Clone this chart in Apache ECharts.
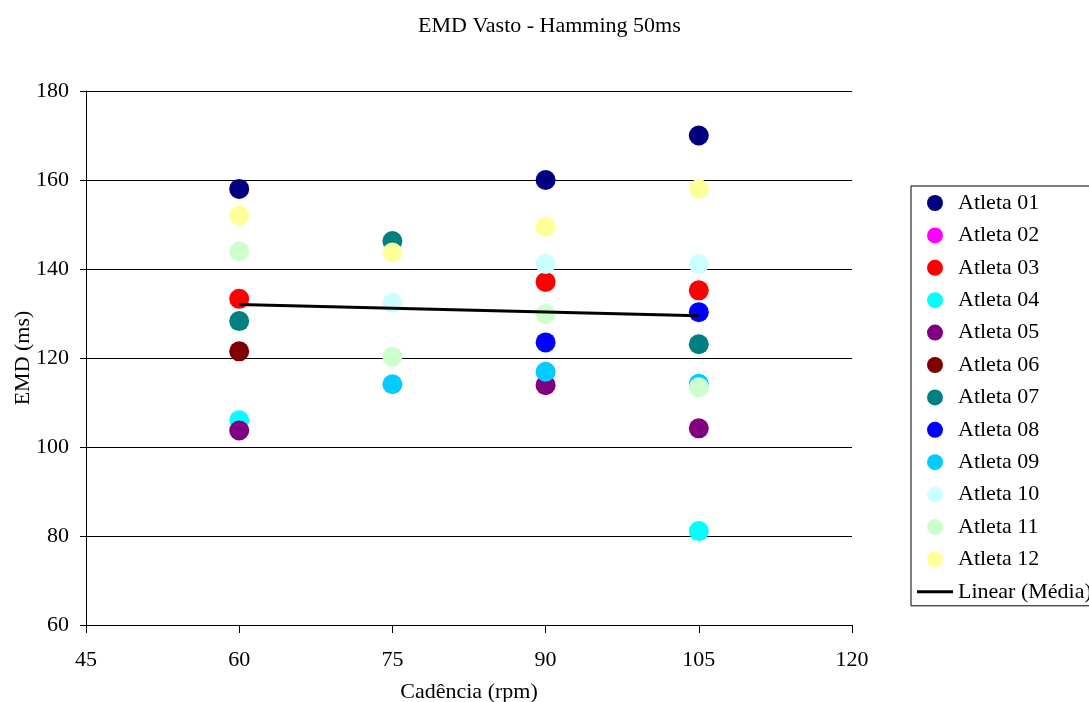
<!DOCTYPE html>
<html>
<head>
<meta charset="utf-8">
<script src="https://cdn.jsdelivr.net/npm/echarts@6/dist/echarts.min.js"></script>
<style>html,body{margin:0;padding:0;background:#fff}#c{width:1089px;height:702px}</style>
</head>
<body>
<div id="c"></div>
<script>
const cadence = [60, 75, 90, 105];
const xTicks = [45, 60, 75, 90, 105, 120];
const yTicks = [60, 80, 100, 120, 140, 160, 180];
const athleteNames = ['Atleta 01','Atleta 02','Atleta 03','Atleta 04','Atleta 05','Atleta 06','Atleta 07','Atleta 08','Atleta 09','Atleta 10','Atleta 11','Atleta 12'];
const atleta01 = [158, null, 160, 170];
const atleta02 = [null, null, null, null];
const atleta03 = [133.3, null, 137.1, 135.2];
const atleta04 = [106, null, null, 81.1];
const atleta05 = [103.7, null, 113.9, 104.2];
const atleta06 = [121.5, null, null, null];
const atleta07 = [128.3, 146.3, null, 123.1];
const atleta08 = [null, null, 123.5, 130.3];
const atleta09 = [null, 114.1, 116.9, 114.2];
const atleta10 = [null, 132.4, 141.1, 141.1];
const atleta11 = [144, 120.3, 129.9, 113.4];
const atleta12 = [152, 143.7, 149.5, 158];
const trendName = 'Linear (Média)';
const trendX = [60, 105];
const trendY = [132.0, 129.5];

const athleteValues = [atleta01, atleta02, atleta03, atleta04, atleta05, atleta06, atleta07, atleta08, atleta09, atleta10, atleta11, atleta12];
const colors = ['#000080','#FF00FF','#FF0000','#00FFFF','#800080','#800000','#008080','#0000FF','#00CCFF','#CCFFFF','#CCFFCC','#FFFF99'];
const FONT = "'Liberation Serif','Times New Roman',serif";

const series = athleteNames.map((name, i) => ({
  name: name,
  type: 'scatter',
  symbol: 'circle',
  symbolSize: 20,
  itemStyle: { color: colors[i], opacity: 1 },
  data: cadence.map((x, j) => [x, athleteValues[i][j]]).filter(d => d[1] !== null)
}));
series.push({
  name: trendName,
  type: 'line',
  symbol: 'none',
  showSymbol: false,
  lineStyle: { color: '#000', width: 3 },
  itemStyle: { color: '#000' },
  z: 3,
  data: trendX.map((x, j) => [x, trendY[j]])
});

const legendData = athleteNames.map(n => ({ name: n }));
legendData.push({ name: trendName, icon: 'path://M0,0L36,0L36,3L0,3Z', itemStyle: { color: '#000' } });

const chart = echarts.init(document.getElementById('c'), null, { renderer: 'canvas' });
chart.setOption({
  animation: false,
  backgroundColor: '#fff',
  textStyle: { fontFamily: FONT },
  title: {
    text: 'EMD Vasto - Hamming 50ms',
    left: 418,
    top: 15,
    padding: 0,
    textStyle: { fontFamily: FONT, fontSize: 22, fontWeight: 'normal', color: '#000' }
  },
  grid: { left: 86, right: 237, top: 91, bottom: 77, containLabel: false, outerBoundsMode: 'none' },
  xAxis: {
    type: 'value',
    min: xTicks[0], max: xTicks[xTicks.length - 1], interval: 15,
    name: 'Cadência (rpm)',
    nameLocation: 'middle',
    nameGap: 56,
    nameMoveOverlap: false,
    nameTextStyle: { fontFamily: FONT, fontSize: 22, color: '#000' },
    axisLine: { show: true, lineStyle: { color: '#000', width: 1 } },
    axisTick: { show: true, length: 8, lineStyle: { color: '#000' } },
    axisLabel: { margin: 24, fontFamily: FONT, fontSize: 22, color: '#000' },
    splitLine: { show: false }
  },
  yAxis: {
    type: 'value',
    min: yTicks[0], max: yTicks[yTicks.length - 1], interval: 20,
    name: 'EMD (ms)',
    nameLocation: 'middle',
    nameGap: 52,
    nameRotate: 90,
    nameMoveOverlap: false,
    nameTextStyle: { fontFamily: FONT, fontSize: 22, color: '#000' },
    axisLine: { show: true, lineStyle: { color: '#000', width: 1 } },
    axisTick: { show: true, length: 6, lineStyle: { color: '#000' } },
    axisLabel: { margin: 17, fontFamily: FONT, fontSize: 22, color: '#000' },
    splitLine: { show: true, lineStyle: { color: '#000', width: 1 } }
  },
  legend: {
    orient: 'vertical',
    left: 911,
    top: 186,
    padding: [6, 10, 3, 6],
    itemWidth: 36,
    itemHeight: 16,
    itemGap: 10.4,
    symbolKeepAspect: true,
    borderColor: '#000',
    borderWidth: 1,
    borderRadius: 0,
    textStyle: { fontFamily: FONT, fontSize: 22, color: '#000', lineHeight: 22 },
    data: legendData
  },
  series: series
});
</script>
</body>
</html>
